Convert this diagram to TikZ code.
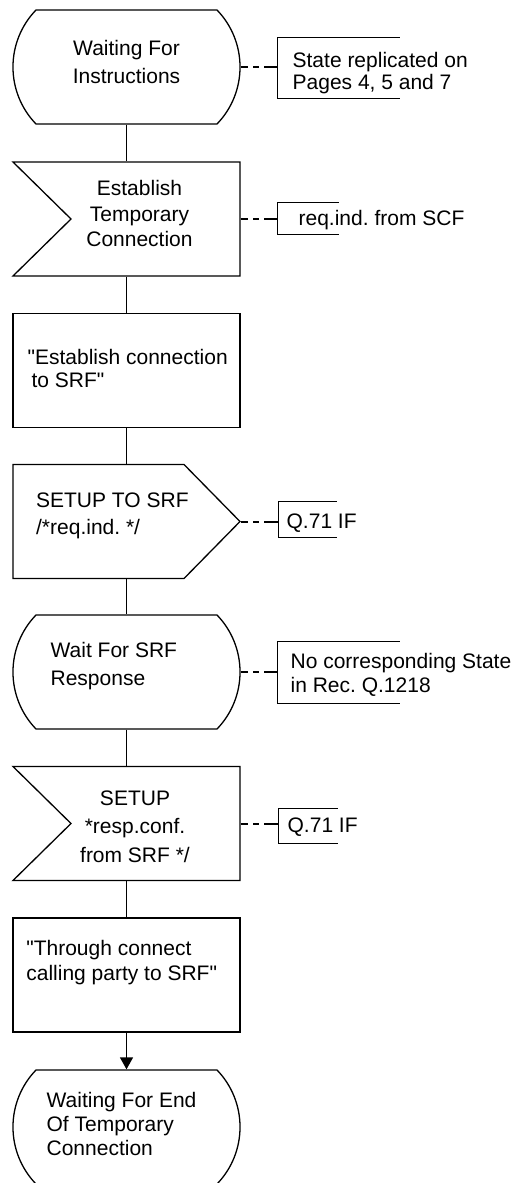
\documentclass[tikz,border=0pt]{standalone}
\usepackage{fontspec}
\setmainfont{Liberation Sans}[Ligatures=TeXOff]
\usetikzlibrary{arrows.meta}
\frenchspacing

\newcommand{\stateshape}[1]{\draw[shift={(#1.center)}] (-90.5,-57) -- (90.5,-57) .. controls (121.2,-25.2) and (121.2,25.2) .. (90.5,57) -- (-90.5,57) .. controls (-121.2,25.2) and (-121.2,-25.2) .. cycle;}
\newcommand{\inputshape}[1]{\draw[shift={(#1.center)}] (-113.5,-57) -- (113.5,-57) -- (113.5,57) -- (-113.5,57) -- (-55.5,0) -- cycle;}
\newcommand{\outputshape}[1]{\draw[shift={(#1.center)}] (-113.5,-57) -- (57.5,-57) -- (113.5,0) -- (57.5,57) -- (-113.5,57) -- cycle;}
\newcommand{\noteshape}[1]{\draw (#1.north east) -- (#1.north west) -- (#1.south west) -- (#1.south east);}

\begin{document}
\begin{tikzpicture}[x=0.5pt,y=-0.5pt,line width=0.65pt,
	box/.style={minimum width=113.5pt,minimum height=57pt,inner sep=0pt},
	note/.style={inner sep=0pt},
	txt/.style={inner sep=0pt,font=\fontsize{10.5}{#1}\selectfont},
	txt/.default=13,
	commentline/.style={line width=1pt,dash pattern=on 3.5pt off 2.8pt on 3pt off 2.6pt on 10pt off 1pt}]
	\useasboundingbox (0,0) rectangle (516,1183);

	\node[box] (waitinstr) at (126.5,67) {};
	\node[box] (esttemp) at (126.5,219) {};
	\node[box,draw] (estsrf) at (126.5,370.5) {};
	\node[box] (setupsrf) at (126.5,521.5) {};
	\node[box] (waitsrf) at (126.5,672) {};
	\node[box] (setupresp) at (126.5,823.5) {};
	\node[box,draw] (through) at (126.5,975) {};
	\node[box] (waitend) at (126.5,1127) {};
	\stateshape{waitinstr}
	\inputshape{esttemp}
	\outputshape{setupsrf}
	\stateshape{waitsrf}
	\inputshape{setupresp}
	\stateshape{waitend}

	\node[txt=13.85,anchor=north,align=center] (waitinstrtxt) at (126.5,40) {Waiting For\\Instructions};
	\node[txt=12.7,anchor=north,align=center] (esttemptxt) at (139.5,180) {Establish\\Temporary\\Connection};
	\node[txt=11.7,anchor=north west,align=left] (estsrftxt) at (27,348.3) {"Establish connection\\\hspace*{2pt}to SRF"};
	\node[txt=13.8,anchor=north west,align=left] (setupsrftxt) at (35.5,491.7) {SETUP TO SRF\\/*req.ind. */};
	\node[txt=14.2,anchor=north west,align=left] (waitsrftxt) at (50,641.7) {Wait For SRF\\Response};
	\node[txt=14.2,anchor=north,align=center] (setupresptxt) at (135,790) {SETUP\\*resp.conf.\\from SRF */};
	\node[txt=12.5,anchor=north west,align=left] (throughtxt) at (25.7,940) {"Through connect\\calling party to SRF"};
	\node[txt=12.1,anchor=north west,align=left] (waitendtxt) at (46,1091.7) {Waiting For End\\Of Temporary\\Connection};

	\node[note,minimum width=60.5pt,minimum height=30pt] (replnote) at (338.5,68) {};
	\node[note,minimum width=30pt,minimum height=15.5pt] (scfnote) at (308,218.5) {};
	\node[note,minimum width=28.5pt,minimum height=17.5pt] (ifnotea) at (307.5,519.5) {};
	\node[note,minimum width=60.5pt,minimum height=30.5pt] (recnote) at (338.5,672.5) {};
	\node[note,minimum width=29pt,minimum height=17pt] (ifnoteb) at (308,826) {};
	\noteshape{replnote}
	\noteshape{scfnote}
	\noteshape{ifnotea}
	\noteshape{recnote}
	\noteshape{ifnoteb}

	\node[txt=10.8,anchor=north west,align=left] (repltxt) at (292,51.7) {State replicated on\\Pages 4, 5 and 7};
	\node[txt,anchor=north west] (scftxt) at (298,209.3) {req.ind. from SCF};
	\node[txt,anchor=north west] (ifatxt) at (286,512.7) {Q.71 IF};
	\node[txt=12,anchor=north west,align=left] (rectxt) at (290,652.7) {No corresponding State\\in Rec. Q.1218};
	\node[txt,anchor=north west] (ifbtxt) at (287,816.7) {Q.71 IF};

	\draw (waitinstr.south) -- (esttemp.north);
	\draw (esttemp.south) -- (estsrf.north);
	\draw (estsrf.south) -- (setupsrf.north);
	\draw (setupsrf.south) -- (waitsrf.north);
	\draw (waitsrf.south) -- (setupresp.north);
	\draw (setupresp.south) -- (through.north);
	\draw[-{Triangle[length=6pt,width=6.5pt]}] (through.south) -- (waitend.north);

	\draw[commentline] (waitinstr.east) -- (waitinstr.east -| replnote.west);
	\draw[commentline] (esttemp.east) -- (esttemp.east -| scfnote.west);
	\draw[commentline] (setupsrf.east) -- (setupsrf.east -| ifnotea.west);
	\draw[commentline] (waitsrf.east) -- (waitsrf.east -| recnote.west);
	\draw[commentline] (setupresp.east) -- (setupresp.east -| ifnoteb.west);
\end{tikzpicture}
\end{document}
